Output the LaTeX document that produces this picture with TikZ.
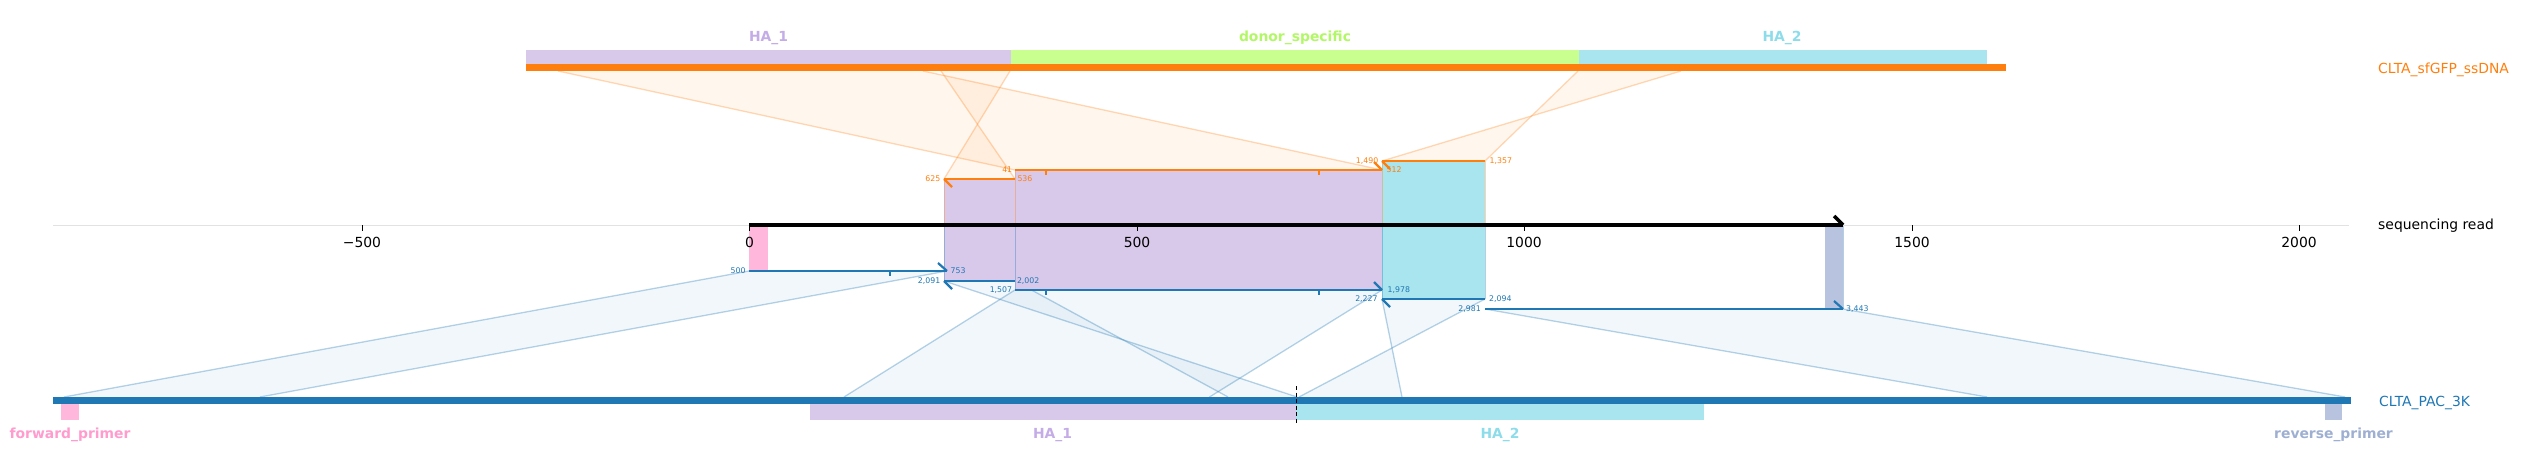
\documentclass[tikz,border=0pt]{standalone}
\usepackage{fontspec}
\setmainfont{DejaVu Sans}
\definecolor{tabor}{HTML}{FF7F0E}
\definecolor{tabbl}{HTML}{1F77B4}
\definecolor{haone}{HTML}{D8C8EA}
\definecolor{haonetxt}{HTML}{C4ACE6}
\definecolor{donor}{HTML}{C8FF8F}
\definecolor{donortxt}{HTML}{B2F766}
\definecolor{hatwo}{HTML}{A8E5EE}
\definecolor{hatwotxt}{HTML}{8CDCEA}
\definecolor{fwd}{HTML}{FFB8DC}
\definecolor{fwdtxt}{HTML}{FF9CCD}
\definecolor{revp}{HTML}{B8C4DF}
\definecolor{revptxt}{HTML}{9EAFD2}
\definecolor{axgray}{HTML}{E2E2E2}
\begin{document}
\begin{tikzpicture}[x=1pt,y=-1pt,
  lbl/.style={font=\fontsize{13.9}{16}\selectfont, inner sep=0pt, anchor=base},
  featlbl/.style={font=\fontsize{13.9}{16}\selectfont\bfseries, inner sep=0pt, anchor=base},
  num/.style={font=\fontsize{7.8}{9}\selectfont, inner sep=0pt},
  numL/.style={num, anchor=base east},
  numR/.style={num, anchor=base west},
  alnO/.style={draw=tabor, line width=2.2pt},
  alnB/.style={draw=tabbl, line width=2.2pt},
  conO/.style={fill=tabor, fill opacity=0.07},
  conOedge/.style={draw=tabor, draw opacity=0.3, line width=1.3pt},
  conB/.style={fill=tabbl, fill opacity=0.06},
  conBedge/.style={draw=tabbl, draw opacity=0.33, line width=1.3pt},
  vedgeO/.style={draw=tabor, draw opacity=0.35, line width=1pt},
  vedgeB/.style={draw=tabbl, draw opacity=0.35, line width=1pt},
  tickmark/.style={draw=black, line width=0.8pt},
  alntick/.style={line width=1.6pt},
]
\useasboundingbox (0,0) rectangle (2521,470);

% ---------- coordinates ----------
% ssDNA (top) positions
\coordinate (t41) at (558,71);   \coordinate (t512) at (923,71);
\coordinate (t625) at (1010,71); \coordinate (t536) at (941,71);
\coordinate (t1490) at (1681,71);\coordinate (t1357) at (1578,71);
% read, orange alignments
\coordinate (r41) at (1015,170);  \coordinate (r512) at (1382,170);
\coordinate (r625) at (944,179);  \coordinate (r536) at (1015,179);
\coordinate (r1490) at (1382,161);\coordinate (r1357) at (1485,161);
% read, blue alignments
\coordinate (b500) at (749,271);   \coordinate (b753) at (947,271);
\coordinate (b2091) at (944,281);  \coordinate (b2002) at (1015,281);
\coordinate (b1507) at (1015,290); \coordinate (b1978) at (1382,290);
\coordinate (b2227) at (1382,299); \coordinate (b2094) at (1485,299);
\coordinate (b2981) at (1485,309); \coordinate (b3443) at (1843,309);
% reference (bottom) positions
\coordinate (p500) at (64,397);    \coordinate (p753) at (260,397);
\coordinate (p2091) at (1297,397); \coordinate (p2002) at (1228,397);
\coordinate (p1507) at (844,397);  \coordinate (p1978) at (1209.5,397);
\coordinate (p2227) at (1402,397); \coordinate (p2094) at (1299,397);
\coordinate (p2981) at (1987,397); \coordinate (p3443) at (2345,397);

% ---------- connection fills ----------
\path[conO] (t41) -- (t512) -- (r512) -- (r41) -- cycle;
\path[conO] (t625) -- (t536) -- (r536) -- (r625) -- cycle;
\path[conO] (t1490) -- (t1357) -- (r1357) -- (r1490) -- cycle;
\path[conB] (b500) -- (b753) -- (p753) -- (p500) -- cycle;
\path[conB] (b2091) -- (b2002) -- (p2002) -- (p2091) -- cycle;
\path[conB] (b1507) -- (b1978) -- (p1978) -- (p1507) -- cycle;
\path[conB] (b2227) -- (b2094) -- (p2094) -- (p2227) -- cycle;
\path[conB] (b2981) -- (b3443) -- (p3443) -- (p2981) -- cycle;

\draw[conOedge] (t41) -- (r41);   \draw[conOedge] (t512) -- (r512);
\draw[conOedge] (t625) -- (r625); \draw[conOedge] (t536) -- (r536);
\draw[conOedge] (t1490) -- (r1490); \draw[conOedge] (t1357) -- (r1357);
\draw[conBedge] (b500) -- (p500);   \draw[conBedge] (b753) -- (p753);
\draw[conBedge] (b2091) -- (p2091); \draw[conBedge] (b2002) -- (p2002);
\draw[conBedge] (b1507) -- (p1507); \draw[conBedge] (b1978) -- (p1978);
\draw[conBedge] (b2227) -- (p2227); \draw[conBedge] (b2094) -- (p2094);
\draw[conBedge] (b2981) -- (p2981); \draw[conBedge] (b3443) -- (p3443);

% ---------- blocks on the read ----------
\fill[fwd] (749,227) rectangle (768,271);
\fill[haone] (944,179) rectangle (1015,281);
\fill[haone] (1015,170) rectangle (1382,290);
\fill[hatwo] (1382,161) rectangle (1485,299);
\fill[revp] (1825,225) rectangle (1843,309);

\draw[vedgeO] (944,179) -- (944,225);  \draw[vedgeB] (944,225) -- (944,281);
\draw[vedgeO] (1015,170) -- (1015,225);\draw[vedgeB] (1015,225) -- (1015,290);
\draw[vedgeO] (1382,161) -- (1382,225);\draw[vedgeB] (1382,225) -- (1382,299);
\draw[vedgeO] (1485,161) -- (1485,225);\draw[vedgeB] (1485,225) -- (1485,299);
\draw[vedgeB] (1843,225) -- (1843,309);

% ---------- axis ----------
\coordinate (axL) at (53,225.5); \coordinate (axR) at (2349,225.5);
\draw[axgray, line width=1.2pt] (axL) -- (axR);
\foreach \xx/\lab in {362/{−500},749.5/0,1137/500,1524/1000,1912/1500,2299/2000}{
  \draw[tickmark] (\xx,225.5) -- (\xx,231);
  \node[lbl] at (\xx,247.3) {\lab};
}

% read
\coordinate (rdS) at (749,225); \coordinate (rdE) at (1843,225);
\coordinate (rdB) at (1834,216);
\draw[line width=4pt] (rdS) -- (rdE);
\draw[line width=3.5pt] (rdE) -- (rdB);

% ---------- alignment lines (orange) ----------
\draw[alnO] (r625) -- (r536);
\draw[alnO] (r625) -- ++(8,8);
\draw[alnO] (r41) -- (r512);
\draw[alnO] (r512) -- ++(-8,-8);
\draw[tabor, alntick] (1046,170) -- (1046,175);
\draw[tabor, alntick] (1319,170) -- (1319,175);
\draw[alnO] (r1490) -- (r1357);
\draw[alnO] (r1490) -- ++(8,8);

\node[numL, text=tabor] at (940.5,181.8) {625};
\node[numR, text=tabor] at (1017.3,181.8) {536};
\node[numL, text=tabor] at (1012.4,172.2) {41};
\node[numR, text=tabor] at (1386.5,172.8) {512};
\node[numL, text=tabor] at (1378.5,163.8) {1,490};
\node[numR, text=tabor] at (1489.5,163.8) {1,357};

% ---------- alignment lines (blue) ----------
\draw[alnB] (b500) -- (b753);
\draw[alnB] (b753) -- ++(-9,-8);
\draw[tabbl, alntick] (890,271) -- (890,276.5);
\draw[alnB] (b2091) -- (b2002);
\draw[alnB] (b2091) -- ++(8,8);
\draw[alnB] (b1507) -- (b1978);
\draw[alnB] (b1978) -- ++(-8,-8);
\draw[tabbl, alntick] (1046,290) -- (1046,295);
\draw[tabbl, alntick] (1319,290) -- (1319,295);
\draw[alnB] (b2227) -- (b2094);
\draw[alnB] (b2227) -- ++(8,8);
\draw[alnB] (b2981) -- (b3443);
\draw[alnB] (b3443) -- ++(-9,-8);

\node[numL, text=tabbl] at (745.7,273.8) {500};
\node[numR, text=tabbl] at (950.5,273.8) {753};
\node[numL, text=tabbl] at (940.5,283.5) {2,091};
\node[numR, text=tabbl] at (1016.8,283.5) {2,002};
\node[numL, text=tabbl] at (1012.3,292.5) {1,507};
\node[numR, text=tabbl] at (1387.5,292.8) {1,978};
\node[numL, text=tabbl] at (1377.8,301.5) {2,227};
\node[numR, text=tabbl] at (1489,301.5) {2,094};
\node[numL, text=tabbl] at (1481,311.5) {2,981};
\node[numR, text=tabbl] at (1846,311.5) {3,443};

% ---------- top ssDNA ----------
\fill[haone] (526,50) rectangle (1011,64);
\fill[donor] (1011,50) rectangle (1578.5,64);
\fill[hatwo] (1578.5,50) rectangle (1986.5,64);
\fill[tabor] (526,64) rectangle (2005.5,71);
\node[featlbl, text=haonetxt] (lhaA) at (768.5,41.5) {HA\_1};
\node[featlbl, text=donortxt] (ldonor) at (1295,41.5) {donor\_specific};
\node[featlbl, text=hatwotxt] (lhaB) at (1782,41.5) {HA\_2};
\node[lbl, anchor=base west, text=tabor] (lssdna) at (2378,73.3) {CLTA\_sfGFP\_ssDNA};
\node[lbl, anchor=base west] (lread) at (2378,230) {sequencing read};

% ---------- bottom reference ----------
\fill[tabbl] (53,397) rectangle (2351,404);
\fill[fwd] (61,404) rectangle (79,420);
\fill[haone] (810,404) rectangle (1296,420);
\fill[hatwo] (1296,404) rectangle (1704,420);
\fill[revp] (2325,404) rectangle (2342,420);
\coordinate (dTop) at (1296,386); \coordinate (dBot) at (1296,424);
\draw[line width=0.8pt, dash pattern=on 4pt off 2.5pt] (dTop) -- (dBot);
\node[featlbl, text=fwdtxt] (lfwd) at (70,438) {forward\_primer};
\node[featlbl, text=haonetxt] (lhaC) at (1052.5,438) {HA\_1};
\node[featlbl, text=hatwotxt] (lhaD) at (1500,438) {HA\_2};
\node[featlbl, text=revptxt] (lrev) at (2333.5,438) {reverse\_primer};
\node[lbl, anchor=base west, text=tabbl] (lpac) at (2379,406) {CLTA\_PAC\_3K};
\end{tikzpicture}
\end{document}
